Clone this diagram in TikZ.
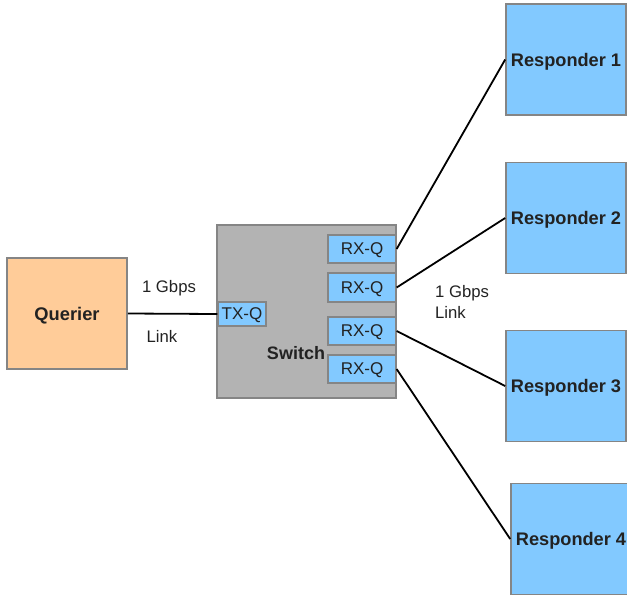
\documentclass[tikz,border=0pt]{standalone}
\usepackage{fontspec}
\setmainfont{Liberation Sans}
\definecolor{boxblue}{HTML}{82C9FF}
\definecolor{peach}{HTML}{FFCC99}
\definecolor{swgray}{HTML}{B3B3B3}
\definecolor{edgegray}{HTML}{858585}
\definecolor{txt}{HTML}{222222}
\tikzset{
  box/.style={draw=edgegray, line width=1.6pt, inner sep=0pt, text=txt, text depth=0pt},
  resp/.style={box, fill=boxblue, minimum width=120pt, minimum height=111pt, font=\fontsize{18.2}{21}\selectfont\bfseries},
  queue/.style={box, fill=boxblue, line width=1.3pt, font=\fontsize{17}{19}\selectfont},
  lbl/.style={text=txt, inner sep=0pt, font=\fontsize{16.7}{19}\selectfont},
  link/.style={draw=black, line width=1.8pt}
}
\begin{document}
\begin{tikzpicture}[x=1pt, y=-1pt]
\useasboundingbox (0,0) rectangle (627,595);
% Querier
\node[box, fill=peach, minimum width=120pt, minimum height=111pt, font=\fontsize{18.3}{21}\selectfont\bfseries] (q) at (67,313.5) {Querier};
% Switch
\node[box, fill=swgray, minimum width=179pt, minimum height=173pt] (sw) at (306.5,311.5) {};
\node[text=txt, inner sep=0pt, font=\fontsize{18}{21}\selectfont\bfseries] (swl) at (296,353) {Switch};
\node[queue, minimum width=48pt, minimum height=24pt] (tx) at (242,314) {TX-Q};
\node[queue, minimum width=68pt, minimum height=28pt] (rx1) at (362,249) {RX-Q};
\node[queue, minimum width=68pt, minimum height=29pt] (rx2) at (362,287.5) {RX-Q};
\node[queue, minimum width=68pt, minimum height=28pt] (rx3) at (362,331) {RX-Q};
\node[queue, minimum width=68pt, minimum height=28pt] (rx4) at (362,369) {RX-Q};
% Responders
\node[resp] (r1) at (566,59.5) {Responder 1};
\node[resp] (r2) at (566,218) {Responder 2};
\node[resp] (r3) at (566,386) {Responder 3};
\node[resp] (r4) at (571,539) {Responder 4};
% Links
\draw[link] (q.east) -- (tx.west);
\draw[link] (rx1.east) -- (r1.west);
\draw[link] (rx2.east) -- (r2.west);
\draw[link] (rx3.east) -- (r3.west);
\draw[link] (rx4.east) -- (r4.west);
% Labels
\node[lbl] (l1a) at (169,288) {1 Gbps};
\node[lbl] (l1b) at (162,336) {Link};
\node[lbl, anchor=west] (l2a) at (435,293) {1 Gbps};
\node[lbl, anchor=west] (l2b) at (435,312) {Link};
\end{tikzpicture}
\end{document}
